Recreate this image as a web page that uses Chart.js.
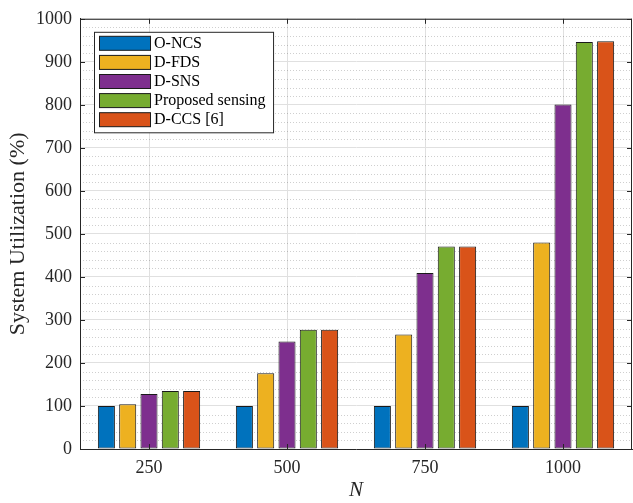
<!DOCTYPE html>
<html>
<head>
<meta charset="utf-8">
<script src="https://cdn.jsdelivr.net/npm/chart.js@4"></script>
<style>
  body { margin: 0; background: #fff; }
  #wrap { width: 633px; height: 503px; }
</style>
</head>
<body>
<div id="wrap"><canvas id="chart" width="633" height="503"></canvas></div>
<script>
// N values on the x axis
const categories = ["250", "500", "750", "1000"];

// system utilization (%) per scheme
const oNcs = [100, 100, 100, 100];
const dFds = [104, 176, 266, 480];
const dSns = [128, 250, 409, 801];
const proposed = [135, 277, 471, 946];
const dCcs = [135, 277, 471, 948];

const seriesNames = ["O-NCS", "D-FDS", "D-SNS", "Proposed sensing", "D-CCS [6]"];
const seriesColors = ["#0072BD", "#EDB120", "#7E2F8E", "#77AC30", "#D95319"];

const yMin = 0, yMax = 1000, majorStep = 100, minorStep = 20;

const serif = '"Liberation Serif", "Times New Roman", serif';
const axisColor = "#262626";

// dotted minor grid like matlab's YMinorGrid
const minorGrid = {
    id: "minorGrid",
    beforeDatasetsDraw(chart) {
        const { ctx, chartArea: a, scales: { y } } = chart;
        ctx.save();
        ctx.strokeStyle = "rgba(38,38,38,0.22)";
        ctx.lineWidth = 1;
        ctx.setLineDash([1, 2]);
        for (let v = y.min; v <= y.max; v += minorStep) {
            if (v % majorStep === 0) continue;
            const py = Math.round(y.getPixelForValue(v)) + 0.5;
            ctx.beginPath();
            ctx.moveTo(a.left, py);
            ctx.lineTo(a.right, py);
            ctx.stroke();
        }
        ctx.restore();
    }
};

// box on top/right + inward tick marks
const axesBox = {
    id: "axesBox",
    afterDatasetsDraw(chart) {
        const { ctx, chartArea: a, scales: { x, y } } = chart;
        const tl = 5;
        ctx.save();
        ctx.strokeStyle = axisColor;
        ctx.lineWidth = 1;
        ctx.beginPath();
        ctx.moveTo(a.left, a.top + 0.5);
        ctx.lineTo(a.right, a.top + 0.5);
        ctx.moveTo(a.right - 0.5, a.top);
        ctx.lineTo(a.right - 0.5, a.bottom);
        for (let v = yMin; v <= yMax; v += majorStep) {
            const py = Math.round(y.getPixelForValue(v)) + 0.5;
            ctx.moveTo(a.left, py);
            ctx.lineTo(a.left + tl, py);
            ctx.moveTo(a.right, py);
            ctx.lineTo(a.right - tl, py);
        }
        categories.forEach((_, i) => {
            const px = Math.round(x.getPixelForValue(i)) + 0.5;
            ctx.moveTo(px, a.bottom);
            ctx.lineTo(px, a.bottom - tl);
            ctx.moveTo(px, a.top);
            ctx.lineTo(px, a.top + tl);
        });
        ctx.stroke();
        ctx.restore();
    }
};

// boxed legend inside the plot, top-left
const boxLegend = {
    id: "boxLegend",
    afterDraw(chart) {
        const { ctx, chartArea: a } = chart;
        const left = a.left + 14.5, top = a.top + 13.5;
        const swW = 51, swH = 14, rowH = 19.1, textX = left + 59.5;
        ctx.save();
        ctx.font = "16px " + serif;
        const sets = chart.data.datasets;
        const maxW = Math.max(...sets.map(d => ctx.measureText(d.label).width));
        const w = textX + maxW + 8 - left;
        const h = sets.length * rowH + 5;
        ctx.fillStyle = "#fff";
        ctx.fillRect(left, top, w, h);
        ctx.strokeStyle = axisColor;
        ctx.lineWidth = 1;
        ctx.strokeRect(left, top, w, h);
        ctx.textBaseline = "middle";
        sets.forEach((d, i) => {
            const ry = top + 4 + i * rowH;
            ctx.fillStyle = d.backgroundColor;
            ctx.fillRect(left + 5, ry, swW, swH);
            ctx.strokeStyle = "#1a1a1a";
            ctx.strokeRect(left + 5, ry, swW, swH);
            ctx.fillStyle = "#000";
            ctx.fillText(d.label, textX, ry + swH / 2 + 0.5);
        });
        ctx.restore();
    }
};

const values = [oNcs, dFds, dSns, proposed, dCcs];

new Chart(document.getElementById("chart"), {
    type: "bar",
    data: {
        labels: categories,
        datasets: values.map((arr, i) => ({
            label: seriesNames[i],
            data: arr,
            backgroundColor: seriesColors[i],
            borderColor: "#1a1a1a",
            borderWidth: 1,
            borderSkipped: false,
            categoryPercentage: 0.772,
            barPercentage: 0.8
        }))
    },
    options: {
        responsive: false,
        animation: false,
        layout: { padding: { left: 0, right: 1, top: 14, bottom: 0 } },
        plugins: {
            legend: { display: false },
            tooltip: { enabled: false }
        },
        scales: {
            x: {
                afterFit: s => { s.height = 54; },
                grid: { color: "#e0e0e0", offset: false, drawTicks: false },
                border: { color: axisColor },
                ticks: { color: axisColor, padding: 8, font: { family: serif, size: 18 } },
                title: {
                    display: true,
                    text: "N",
                    color: axisColor,
                    padding: { top: 0, bottom: 0 },
                    font: { family: serif, size: 21, style: "italic" }
                }
            },
            y: {
                min: yMin,
                max: yMax,
                afterFit: s => { s.width = 80; },
                grid: { color: "#e0e0e0", drawTicks: false },
                border: { color: axisColor },
                ticks: {
                    stepSize: majorStep,
                    color: axisColor,
                    padding: 8,
                    font: { family: serif, size: 18 },
                    callback: v => String(v)
                },
                title: {
                    display: true,
                    text: "System Utilization (%)",
                    color: axisColor,
                    padding: { top: 5, bottom: 0 },
                    font: { family: serif, size: 22 }
                }
            }
        }
    },
    plugins: [minorGrid, axesBox, boxLegend]
});
</script>
</body>
</html>
